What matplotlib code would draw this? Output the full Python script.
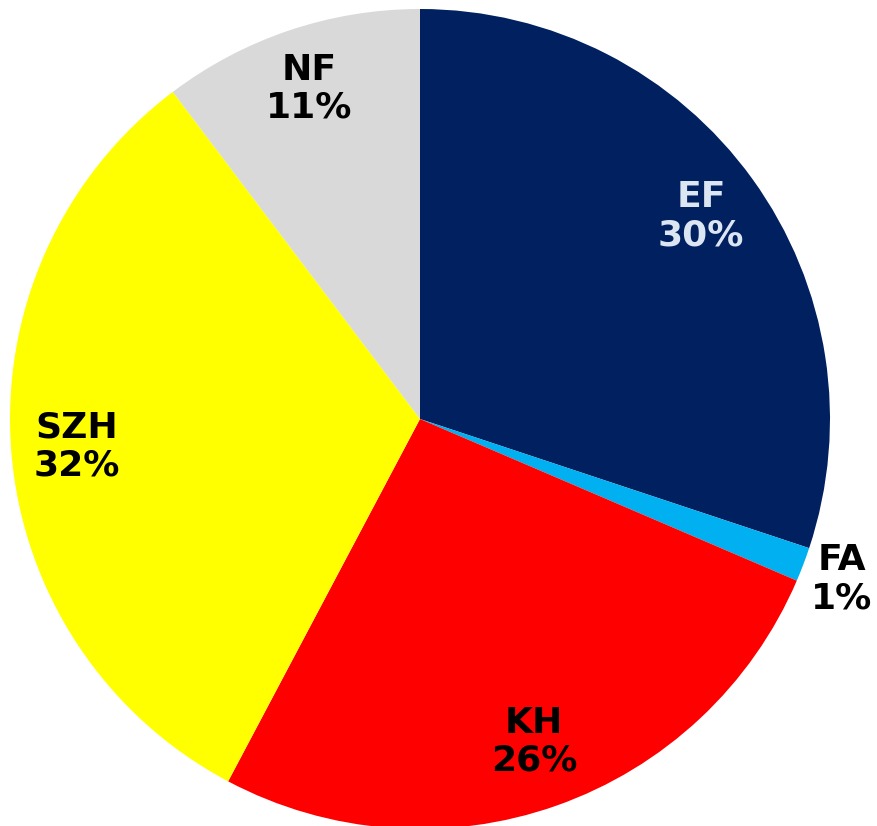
import numpy as np
import matplotlib
matplotlib.use("Agg")
import matplotlib.pyplot as plt

# ── Data ───────────────────────────────────────────────────────────────────
categories = ["EF", "FA", "KH", "SZH", "NF"]
shares = [30.1, 1.35, 26.3, 31.95, 10.3]
pct_labels = ["30%", "1%", "26%", "32%", "11%"]
colors = ["#002060", "#00B0F0", "#FF0000", "#FFFF00", "#D9D9D9"]
text_colors = ["#DCE6F2", "black", "black", "black", "black"]
label_dist = [0.845, 1.10, 0.835, 0.84, 0.85]

# ── Plot ───────────────────────────────────────────────────────────────────
W, H, DPI = 877, 826, 100
fig = plt.figure(figsize=(W / DPI, H / DPI), dpi=DPI)
cx, cy, r = 420, 826 - 419, 410
ax = fig.add_axes([(cx - r) / W, (cy - r) / H, 2 * r / W, 2 * r / H])

wedges, _ = ax.pie(shares, colors=colors, startangle=90, counterclock=False,
                   radius=1.0, wedgeprops=dict(linewidth=0))

for w, name, pct, tc, d in zip(wedges, categories, pct_labels, text_colors, label_dist):
    mid = np.deg2rad(0.5 * (w.theta1 + w.theta2))
    x, y = d * np.cos(mid), d * np.sin(mid)
    ax.text(x, y, f"{name}\n{pct}", ha="center", va="center",
            fontsize=26, fontweight="bold", color=tc, linespacing=1.15,
            family="DejaVu Sans")

ax.set_xlim(-1, 1)
ax.set_ylim(-1, 1)
ax.axis("off")
for w in wedges:
    w.set_clip_on(False)

fig.savefig("out.png", dpi=DPI)
